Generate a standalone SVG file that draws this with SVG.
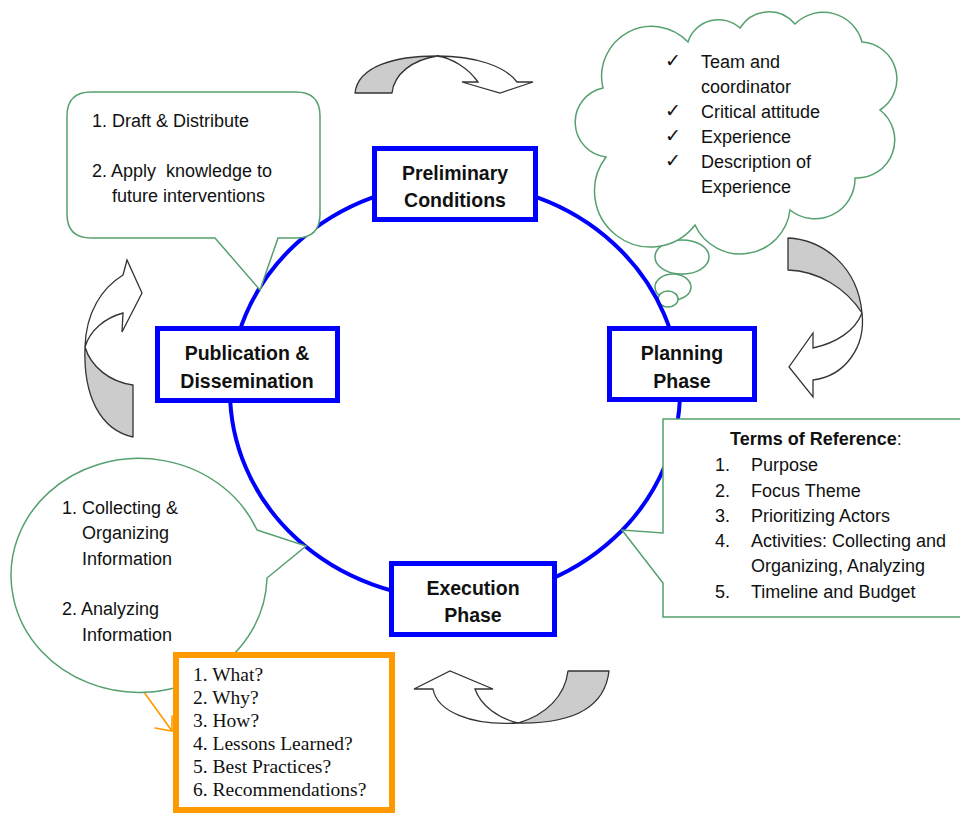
<svg xmlns="http://www.w3.org/2000/svg" width="960" height="814" viewBox="0 0 960 814">
  <style>
    .t { font-family: "Liberation Sans", Arial, sans-serif; font-size: 18px; fill: #111; white-space: pre; }
    .lbl { font-family: "Liberation Sans", Arial, sans-serif; font-size: 19.5px; font-weight: bold; fill: #111; text-anchor: middle; }
    .serif { font-family: "Liberation Serif", "Times New Roman", serif; font-size: 19.5px; fill: #111; }
    .chk { font-family: "DejaVu Sans", sans-serif; font-size: 19px; fill: #111; }
    .phase { fill: #fff; stroke: #0000ff; stroke-width: 5; }
    .callout { fill: #fff; stroke: #55a06e; stroke-width: 1.5; stroke-linejoin: miter; }
    .arrow-back { fill: #cccccc; stroke: #333; stroke-width: 1.3; stroke-linejoin: round; }
    .arrow-front { fill: #fff; stroke: #333; stroke-width: 1.3; stroke-linejoin: miter; }
  </style>

  <rect width="960" height="814" fill="#fff"/>

  <!-- thought bubbles under the cloud -->
  <g id="cloud-bubbles" class="callout">
    <ellipse cx="682" cy="257" rx="27" ry="17"/>
    <ellipse cx="673" cy="287" rx="18" ry="13"/>
    <ellipse cx="668" cy="299" rx="10" ry="8"/>
  </g>

  <!-- cycle ring -->
  <g id="connectors">
    <ellipse cx="455" cy="391" rx="225" ry="208" fill="none" stroke="#0000ff" stroke-width="4"/>
    <!-- orange pointer from the analysis bubble to the question list -->
    <g stroke="#ff9900" stroke-width="1.6" fill="none" stroke-linecap="round">
      <line x1="141" y1="688" x2="172" y2="731"/>
      <polyline points="155,728 172,731 172,716"/>
    </g>
  </g>

  <!-- curved cycle arrows -->
  <g id="arrow-top">
    <path class="arrow-back" d="M355,93 C358,66 395,56 437,56 C412,60 394,74 392,93 Z"/>
    <path class="arrow-front" d="M437,56 C475,56 505,66 517,82 L533,82 L500,93 L462,82 L478,82 C468,68 452,58 437,56 Z"/>
  </g>
  <g id="arrow-right">
    <path class="arrow-back" d="M788,238 C825,240 858,268 862,313 C846,288 818,271 788,270 Z"/>
    <path class="arrow-front" d="M862,313 C866,347 845,376 813,380 L813,397 L789,367 L813,333 L813,348 C836,343 855,331 862,313 Z"/>
  </g>
  <g id="arrow-bottom">
    <path class="arrow-back" d="M568,671 L609,671 C605,706 575,724 518,723 C546,715 565,696 568,671 Z"/>
    <path class="arrow-front" d="M518,723 C470,726 437,711 433,689 L414,689 L450,671 L493,689 L475,689 C481,706 498,718 518,723 Z"/>
  </g>
  <g id="arrow-left">
    <path class="arrow-back" d="M85,347 C91,367 110,382 133,385 L133,437 C101,430 83,397 85,347 Z"/>
    <path class="arrow-front" d="M85,347 C86,312 102,288 123,275 L127,260 L142,293 L122,332 L123,313 C105,318 90,330 85,347 Z"/>
  </g>

  <!-- cloud: preliminary conditions checklist -->
  <g id="cloud">
    <path class="callout" d="M603,88 A50,50 0 0 1 688,42 A32,32 0 0 1 740,28 A34,34 0 0 1 795,24 A40,40 0 0 1 862,42 A37,37 0 0 1 880,110 A38,38 0 0 1 855,178 A40,40 0 0 1 790,210 A50,50 0 0 1 695,225 A56,56 0 0 1 606,157 A35,35 0 0 1 603,88 Z"/>
    <text class="chk" x="665" y="67">✓</text>
    <text class="t" x="701" y="68">Team and</text>
    <text class="t" x="701" y="93">coordinator</text>
    <text class="chk" x="665" y="117">✓</text>
    <text class="t" x="701" y="118">Critical attitude</text>
    <text class="chk" x="665" y="142">✓</text>
    <text class="t" x="701" y="143">Experience</text>
    <text class="chk" x="665" y="167">✓</text>
    <text class="t" x="701" y="168">Description of</text>
    <text class="t" x="701" y="193">Experience</text>
  </g>

  <!-- speech callout: publication steps -->
  <g id="callout-publication">
    <path class="callout" d="M91,92 H296 Q320,92 320,116 V214 Q320,238 296,238 H278 L260,290 L215,238 H91 Q67,238 67,214 V116 Q67,92 91,92 Z"/>
    <text class="t" x="92" y="127">1. Draft &amp; Distribute</text>
    <text class="t" x="92" y="177">2. Apply  knowledge to</text>
    <text class="t" x="112" y="202">future interventions</text>
  </g>

  <!-- oval callout: execution steps -->
  <g id="callout-execution">
    <path class="callout" d="M257,530 L306,546 L267,578 A128,117 0 1 1 257,530 Z"/>
    <text class="t" x="62" y="514">1. Collecting &amp;</text>
    <text class="t" x="82" y="539">Organizing</text>
    <text class="t" x="82" y="565">Information</text>
    <text class="t" x="62" y="615">2. Analyzing</text>
    <text class="t" x="82" y="641">Information</text>
  </g>

  <!-- rectangular callout: terms of reference -->
  <g id="callout-terms">
    <path class="callout" d="M663,419 H962 V617 H663 V583 L622,530 L663,533 Z"/>
    <text class="t" x="730" y="445"><tspan font-weight="bold">Terms of Reference</tspan>:</text>
    <text class="t" x="715" y="471">1.</text><text class="t" x="751" y="471">Purpose</text>
    <text class="t" x="715" y="497">2.</text><text class="t" x="751" y="497">Focus Theme</text>
    <text class="t" x="715" y="522">3.</text><text class="t" x="751" y="522">Prioritizing Actors</text>
    <text class="t" x="715" y="547">4.</text><text class="t" x="751" y="547">Activities: Collecting and</text>
    <text class="t" x="751" y="572">Organizing, Analyzing</text>
    <text class="t" x="715" y="598">5.</text><text class="t" x="751" y="598">Timeline and Budget</text>
  </g>

  <!-- question list -->
  <g id="questions">
    <rect x="176" y="655" width="216" height="155" fill="#fff" stroke="#ff9900" stroke-width="6"/>
    <text class="serif" x="193" y="681">1. What?</text>
    <text class="serif" x="193" y="704">2. Why?</text>
    <text class="serif" x="193" y="727">3. How?</text>
    <text class="serif" x="193" y="750">4. Lessons Learned?</text>
    <text class="serif" x="193" y="773">5. Best Practices?</text>
    <text class="serif" x="193" y="796">6. Recommendations?</text>
  </g>

  <!-- phase nodes -->
  <g id="node-preliminary">
    <rect class="phase" x="374.5" y="148.5" width="161" height="71"/>
    <text class="lbl" x="455" y="180">Preliminary</text>
    <text class="lbl" x="455" y="207">Conditions</text>
  </g>
  <g id="node-planning">
    <rect class="phase" x="609.5" y="328.5" width="145" height="71"/>
    <text class="lbl" x="682" y="360">Planning</text>
    <text class="lbl" x="682" y="388">Phase</text>
  </g>
  <g id="node-execution">
    <rect class="phase" x="391.5" y="563.5" width="163" height="71"/>
    <text class="lbl" x="473" y="595">Execution</text>
    <text class="lbl" x="473" y="622">Phase</text>
  </g>
  <g id="node-publication">
    <rect class="phase" x="157.5" y="328.5" width="180" height="72"/>
    <text class="lbl" x="247" y="360">Publication &amp;</text>
    <text class="lbl" x="247" y="388">Dissemination</text>
  </g>
</svg>
